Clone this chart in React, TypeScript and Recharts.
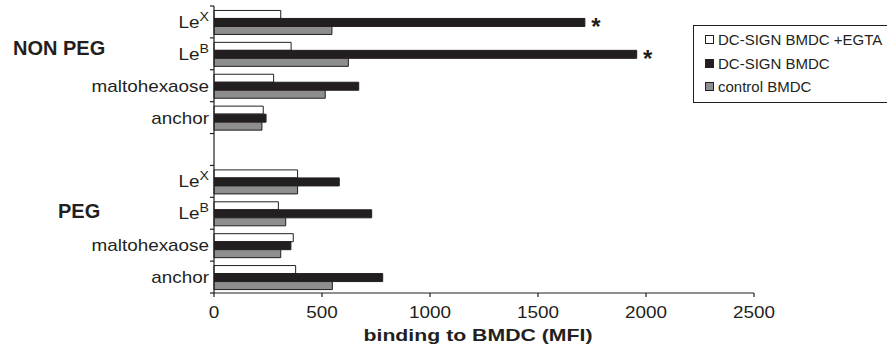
import React from 'react';
import { BarChart, Bar, XAxis, YAxis, LabelList } from 'recharts';

// ---- data ----
const categories = ['LeX-N', 'LeB-N', 'malto-N', 'anchor-N', 'gap', 'LeX-P', 'LeB-P', 'malto-P', 'anchor-P'];
const tickBase = ['Le', 'Le', 'maltohexaose', 'anchor', '', 'Le', 'Le', 'maltohexaose', 'anchor'];
const tickSup = ['X', 'B', '', '', '', 'X', 'B', '', ''];
const egtaValues = [309, 357, 276, 228, null, 387, 298, 367, 378];
const dcSignValues = [1717, 1957, 670, 241, null, 580, 730, 356, 781];
const controlValues = [546, 622, 515, 222, null, 387, 332, 309, 548];
const significance = ['*', '*', '', '', '', '', '', '', ''];
const xTicks = [0, 500, 1000, 1500, 2000, 2500];
const seriesNames = ['DC-SIGN BMDC +EGTA', 'DC-SIGN BMDC', 'control BMDC'];
const groupLabels = ['NON PEG', 'PEG'];

const data = categories.map((c, i) => ({
  cat: c,
  egta: egtaValues[i],
  dcsign: dcSignValues[i],
  control: controlValues[i],
  sig: significance[i],
}));

const INK = '#231f20';
const FONT = '"Liberation Sans", Arial, sans-serif';
const seriesFill = ['#ffffff', INK, '#8e8e8e'];

const YTick = (props: any) => {
  const { x, y, payload } = props;
  const idx = categories.indexOf(payload.value);
  const half = payload.offset ?? 15.9;
  const axisX = x + 5;
  const base = tickBase[idx] ?? '';
  const sup = tickSup[idx] ?? '';
  return (
    <g>
      <line x1={axisX - 4} x2={axisX} y1={y - half} y2={y - half} stroke={INK} strokeWidth={1.2} />
      {idx === categories.length - 1 && (
        <line x1={axisX - 4} x2={axisX} y1={y + half} y2={y + half} stroke={INK} strokeWidth={1.2} />
      )}
      <g transform={`translate(${x},${y + 6}) scale(1.18,1)`}>
        <text x={0} y={0} textAnchor="end" fontSize={16} fill={INK} fontFamily={FONT}>
          {base}
          {sup && (
            <tspan dy={-7} fontSize={12}>
              {sup}
            </tspan>
          )}
        </text>
      </g>
    </g>
  );
};

const XTick = (props: any) => {
  const { x, y, payload } = props;
  return (
    <g>
      <line x1={x} x2={x} y1={y} y2={y + 4} stroke={INK} strokeWidth={1.2} />
      <g transform={`translate(${x},${y + 25}) scale(1.18,1)`}>
        <text x={0} y={0} textAnchor="middle" fontSize={16} fill={INK} fontFamily={FONT}>
          {payload.value}
        </text>
      </g>
    </g>
  );
};

const SigLabel = (props: any) => {
  const { x, y, width, height, value } = props;
  if (!value) return null;
  return (
    <text
      x={x + width + 11}
      y={y + height / 2 + 13}
      textAnchor="middle"
      fontSize={24}
      fontWeight="bold"
      fill={INK}
      fontFamily={FONT}
    >
      {value}
    </text>
  );
};

const AxisTitle = (props: any) => {
  const vb = props.viewBox || {};
  const cx = vb.x + vb.width / 2 - 6;
  return (
    <text x={cx} y={341} textAnchor="middle" fontSize={17} fontWeight="bold" fill={INK} fontFamily={FONT} textLength={229} lengthAdjust="spacingAndGlyphs">
      binding to BMDC (MFI)
    </text>
  );
};

export default function App() {
  return (
    <div style={{ position: 'absolute', left: 0, top: 0, width: 887, height: 352, overflow: 'hidden', background: '#fff' }}>
      <BarChart
        width={887}
        height={352}
        data={data}
        layout="vertical"
        margin={{ top: 6, right: 133, bottom: 0, left: 0 }}
        barCategoryGap="14%"
        barGap={0}
      >
        <XAxis
          type="number"
          domain={[0, 2500]}
          ticks={xTicks}
          interval={0}
          height={59}
          tickSize={0}
          tickMargin={0}
          tickLine={false}
          tick={<XTick />}
          axisLine={{ stroke: INK, strokeWidth: 1.2 }}
          label={<AxisTitle />}
        />
        <YAxis
          type="category"
          dataKey="cat"
          width={214}
          tickSize={0}
          tickMargin={5}
          tickLine={false}
          interval={0}
          tick={<YTick />}
          axisLine={{ stroke: INK, strokeWidth: 1.2 }}
        />
        <Bar dataKey="egta" name={seriesNames[0]} fill={seriesFill[0]} stroke={INK} strokeWidth={1} isAnimationActive={false} />
        <Bar dataKey="dcsign" name={seriesNames[1]} fill={seriesFill[1]} stroke={INK} strokeWidth={1} isAnimationActive={false}>
          <LabelList dataKey="sig" content={<SigLabel />} />
        </Bar>
        <Bar dataKey="control" name={seriesNames[2]} fill={seriesFill[2]} stroke={INK} strokeWidth={1} isAnimationActive={false} />
      </BarChart>
      <svg width={887} height={352} style={{ position: 'absolute', left: 0, top: 0, pointerEvents: 'none' }}>
        <text x={13} y={55} fontSize={20} fontWeight="bold" fill={INK} fontFamily={FONT}>
          {groupLabels[0]}
        </text>
        <text x={58} y={218} fontSize={20} fontWeight="bold" fill={INK} fontFamily={FONT}>
          {groupLabels[1]}
        </text>
      </svg>
      <div
        style={{
          position: 'absolute',
          left: 693,
          top: 25,
          width: 200,
          border: `1px solid ${INK}`,
          padding: '2px 0 3px 11px',
          background: '#fff',
          fontFamily: FONT,
          fontSize: 15,
          color: INK,
          boxSizing: 'border-box',
        }}
      >
        {seriesNames.map((name, i) => (
          <div key={name} style={{ display: 'flex', alignItems: 'center', height: 23.5, whiteSpace: 'nowrap' }}>
            <span
              style={{
                display: 'inline-block',
                width: 7,
                height: 7,
                background: seriesFill[i],
                border: `1px solid ${INK}`,
                marginRight: 4,
              }}
            />
            <span>{name}</span>
          </div>
        ))}
      </div>
    </div>
  );
}
